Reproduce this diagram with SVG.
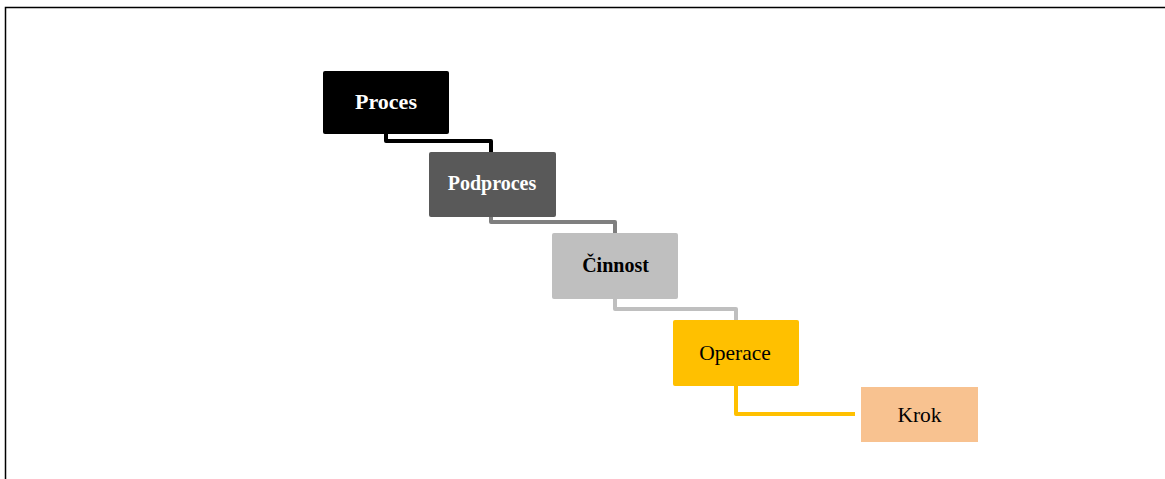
<svg xmlns="http://www.w3.org/2000/svg" width="1165" height="479" viewBox="0 0 1165 479">
<style>
.lbl{font-family:"Liberation Serif","Times New Roman",serif;font-size:21.5px;text-anchor:middle}
.b{font-weight:bold}
.w{fill:#ffffff}
.k{fill:#000000}
.c{fill:none;stroke-width:4;stroke-linejoin:round}
</style>
<rect width="1165" height="479" fill="#ffffff"/>
<path d="M5.5 479 V7.5 H1165" fill="none" stroke="#000" stroke-width="1.5"/>
<g id="connectors">
<path class="c" stroke="#000000" d="M386 134 V141 H491 V152"/>
<path class="c" stroke="#7f7f7f" d="M491 217 V222 H615 V233"/>
<path class="c" stroke="#bfbfbf" d="M615 299 V309 H736 V320"/>
<path class="c" stroke="#ffc000" d="M736 386 V414 H855"/>
</g>
<g id="proces"><rect x="323" y="71" width="126" height="63" rx="2" fill="#000000"/><text class="lbl b w" x="386" y="109" style="font-size:22px">Proces</text></g>
<g id="podproces"><rect x="429" y="152" width="127" height="65" rx="2" fill="#595959"/><text class="lbl b w" x="492" y="190" style="font-size:20px">Podproces</text></g>
<g id="cinnost"><rect x="552" y="233" width="126" height="66" rx="2" fill="#bfbfbf"/><text class="lbl b k" x="615.5" y="271.5" style="font-size:20px">Činnost</text></g>
<g id="operace"><rect x="673" y="320" width="126" height="66" rx="2" fill="#ffc000"/><text class="lbl k" x="735" y="360">Operace</text></g>
<g id="krok"><rect x="861" y="387" width="117" height="55" fill="#f8c290"/><text class="lbl k" x="919.5" y="422">Krok</text></g>
</svg>
